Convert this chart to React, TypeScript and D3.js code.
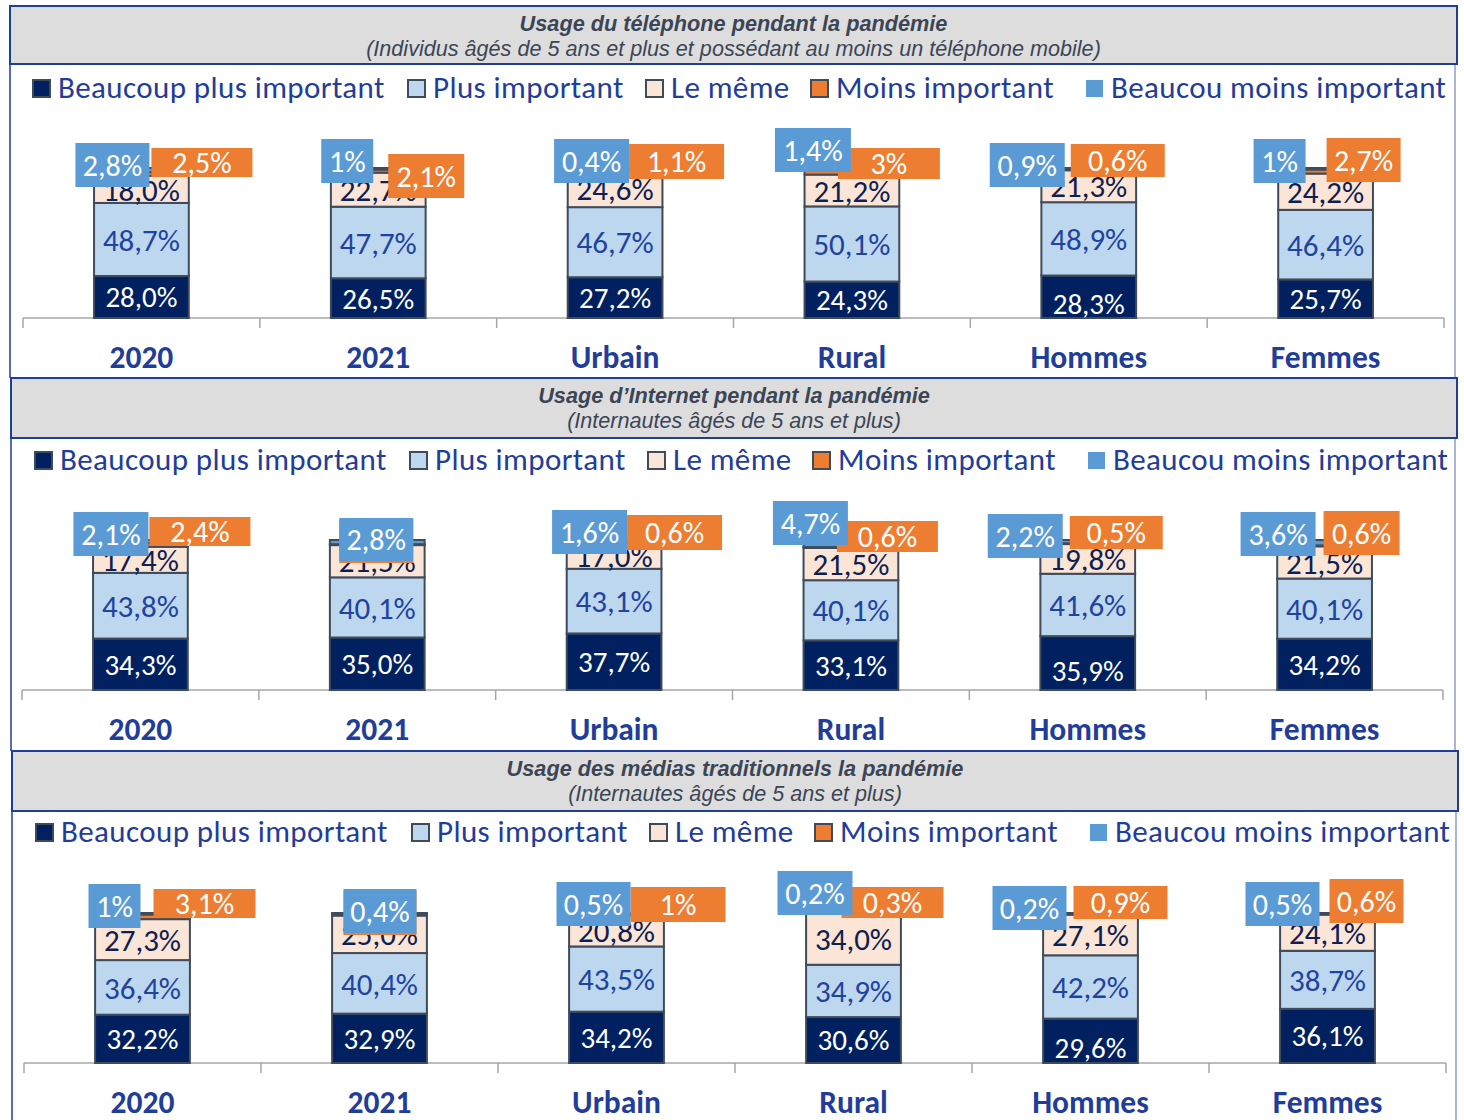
import React from "react";
import * as d3 from "d3";

// ---------- DATA ----------
const categories = ["2020", "2021", "Urbain", "Rural", "Hommes", "Femmes"];
const seriesNames = [
  "Beaucoup plus important",
  "Plus important",
  "Le même",
  "Moins important",
  "Beaucou moins important",
];

const panelTitles = [
  "Usage du téléphone pendant la pandémie",
  "Usage d’Internet pendant la pandémie",
  "Usage des médias traditionnels la pandémie",
];
const panelSubtitles = [
  "(Individus âgés de 5 ans et plus et possédant au moins un téléphone mobile)",
  "(Internautes âgés de 5 ans et plus)",
  "(Internautes âgés de 5 ans et plus)",
];

// Téléphone
const phoneBeaucoupPlus = [28.0, 26.5, 27.2, 24.3, 28.3, 25.7];
const phonePlus = [48.7, 47.7, 46.7, 50.1, 48.9, 46.4];
const phoneMeme = [18.0, 22.7, 24.6, 21.2, 21.3, 24.2];
const phoneMoins = [2.5, 2.1, 1.1, 3, 0.6, 2.7];
const phoneBeaucoupMoins = [2.8, 1, 0.4, 1.4, 0.9, 1];

// Internet
const netBeaucoupPlus = [34.3, 35.0, 37.7, 33.1, 35.9, 34.2];
const netPlus = [43.8, 40.1, 43.1, 40.1, 41.6, 40.1];
const netMeme = [17.4, 21.5, 17.0, 21.5, 19.8, 21.5];
const netMoins = [2.4, 0.6, 0.6, 0.6, 0.5, 0.6];
const netBeaucoupMoins = [2.1, 2.8, 1.6, 4.7, 2.2, 3.6];

// Médias traditionnels
const mediaBeaucoupPlus = [32.2, 32.9, 34.2, 30.6, 29.6, 36.1];
const mediaPlus = [36.4, 40.4, 43.5, 34.9, 42.2, 38.7];
const mediaMeme = [27.3, 25.0, 20.8, 34.0, 27.1, 24.1];
const mediaMoins = [3.1, 1.3, 1, 0.3, 0.9, 0.6];
const mediaBeaucoupMoins = [1, 0.4, 0.5, 0.2, 0.2, 0.5];

const panelSeries = [
  [phoneBeaucoupPlus, phonePlus, phoneMeme, phoneMoins, phoneBeaucoupMoins],
  [netBeaucoupPlus, netPlus, netMeme, netMoins, netBeaucoupMoins],
  [mediaBeaucoupPlus, mediaPlus, mediaMeme, mediaMoins, mediaBeaucoupMoins],
];

// ---------- LAYOUT / STYLE ----------
const COLORS = ["#002060", "#BDD7EE", "#FBE5D6", "#ED7D31", "#5B9BD5"];
const LABEL_COLORS = ["#FFFFFF", "#1F43A0", "#0E2050"];
const BORDER = "#1F3D99";
const TEXT_BLUE = "#1F3D99";
const FONT = "Carlito, Lato, sans-serif";
const TITLE_FONT = "'Liberation Sans', Arial, sans-serif";

const panels = [
  { x0: 10, x1: 1457, top: 6, headBottom: 64, bottom: 378, base: 318, ax0: 23, ax1: 1444, legendY: 98, legendX: [32, 407, 645, 810, 1085] },
  { x0: 11, x1: 1457, top: 378, headBottom: 438, bottom: 751, base: 690, ax0: 22, ax1: 1443, legendY: 470, legendX: [34, 409, 647, 812, 1087] },
  { x0: 12, x1: 1458, top: 751, headBottom: 811, bottom: 1122, base: 1063, ax0: 24, ax1: 1446, legendY: 842, legendX: [35, 411, 649, 814, 1089] },
];

// label box placement, relative to bar centre and bar top:
// [blue dx, dy, w, h, orange dx, dy, w, h]
const labelBoxes = [
  [
    [-66, -25, 74, 44, 10, -20, 101, 29],
    [-57, -29, 52, 44, 10, -14, 76, 44],
    [-61, -29, 75, 44, 14, -24, 95, 35],
    [-77, -40, 76, 44, -14, -20, 102, 31],
    [-99, -25, 75, 44, -18, -24, 94, 33],
    [-72, -29, 52, 44, 1, -30, 74, 44],
  ],
  [
    [-67, -28, 75, 44, 9, -23, 101, 29],
    [-38, -22, 74, 43, -38, -20, 74, 43],
    [-62, -30, 75, 44, 13, -25, 95, 35],
    [-78, -39, 75, 44, -14, -19, 101, 31],
    [-100, -26, 75, 44, -18, -24, 93, 33],
    [-84, -28, 75, 44, -1, -29, 76, 44],
  ],
  [
    [-54, -29, 52, 44, 11, -24, 102, 29],
    [-36, -24, 73, 44, -36, -22, 73, 44],
    [-60, -31, 74, 44, 14, -26, 95, 35],
    [-76, -42, 75, 44, -12, -26, 102, 31],
    [-98, -27, 74, 44, -17, -27, 94, 33],
    [-82, -31, 74, 44, 2, -34, 74, 44],
  ],
];
const darkLabelNudge = [0, 0, 0, 0, 7, 0];

const fmtMain = (v: number) => v.toFixed(1).replace(".", ",") + "%";
const fmtSmall = (v: number) => String(v).replace(".", ",") + "%";

function Panel({ p, idx }: { p: any; idx: number }) {
  const series = panelSeries[idx];
  const rows = categories.map((c, i) => {
    const r: any = { cat: c };
    seriesNames.forEach((s, k) => (r[s] = series[k][i]));
    return r;
  });
  const stacked = d3.stack().keys(seriesNames)(rows);
  const x = d3
    .scaleBand()
    .domain(categories)
    .range([p.ax0, p.ax1])
    .paddingInner(0.6)
    .paddingOuter(0.3);
  const y = d3.scaleLinear().domain([0, 100]).range([p.base, p.base - 150]);
  const step = x.step();
  const ticks = d3.range(categories.length + 1).map((i) => p.ax0 + i * step);
  const cx = (c: string) => (x(c) as number) + x.bandwidth() / 2;

  return (
    <g>
      {/* body borders */}
      <line x1={p.x0} x2={p.x0} y1={p.headBottom} y2={p.bottom} stroke={BORDER} strokeWidth={1.5} />
      <line x1={p.x1 - 2} x2={p.x1 - 2} y1={p.headBottom} y2={p.bottom} stroke="#8C9CC8" strokeWidth={1.5} />
      {/* header */}
      <rect x={p.x0} y={p.top} width={p.x1 - p.x0} height={p.headBottom - p.top} fill="#DDDDDD" stroke={BORDER} strokeWidth={2} />
      <text x={(p.x0 + p.x1) / 2} y={p.top + 25} textAnchor="middle" fontFamily={TITLE_FONT} fontStyle="italic" fontWeight="bold" fontSize={21.7} fill="#3B4556">
        {panelTitles[idx]}
      </text>
      <text x={(p.x0 + p.x1) / 2} y={p.top + 50} textAnchor="middle" fontFamily={TITLE_FONT} fontStyle="italic" fontSize={21.6} fill="#3B4556">
        {panelSubtitles[idx]}
      </text>
      {/* legend */}
      {seriesNames.map((s, k) => (
        <g key={s}>
          <rect
            x={p.legendX[k] + 1}
            y={p.legendY - 18}
            width={17}
            height={17}
            fill={COLORS[k]}
            stroke={k === 4 ? "none" : "#404B5A"}
            strokeWidth={k === 4 ? 0 : 2}
          />
          <text x={p.legendX[k] + 26} y={p.legendY} fontFamily={FONT} fontSize={31} letterSpacing={0.4} fill={TEXT_BLUE}>
            {s}
          </text>
        </g>
      ))}
      {/* axis */}
      <line x1={p.ax0} x2={p.ax1} y1={p.base} y2={p.base} stroke="#A6A6A6" strokeWidth={1.5} />
      {ticks.map((t, i) => (
        <line key={i} x1={t} x2={t} y1={p.base} y2={p.base + 10} stroke="#A6A6A6" strokeWidth={1.5} />
      ))}
      {/* bars */}
      {stacked.map((layer, k) =>
        layer.map((d: any, i: number) => (
          <rect
            key={k + "-" + i}
            x={x(categories[i])}
            y={y(d[1])}
            width={x.bandwidth()}
            height={Math.max(0, y(d[0]) - y(d[1]))}
            fill={COLORS[k]}
            stroke="#3F4B5B"
            strokeWidth={2}
          />
        ))
      )}
      {/* segment labels */}
      {stacked.slice(0, 3).map((layer, k) =>
        layer.map((d: any, i: number) => (
          <text
            key={"l" + k + "-" + i}
            x={cx(categories[i])}
            y={(y(d[0]) + y(d[1])) / 2 + (k === 0 ? darkLabelNudge[i] : 0)}
            dy="0.36em"
            textAnchor="middle"
            fontFamily={FONT}
            fontSize={k === 0 ? 29 : 31}
            fill={LABEL_COLORS[k]}
          >
            {fmtMain(series[k][i])}
          </text>
        ))
      )}
      {/* label boxes: orange first, blue on top */}
      {categories.map((c, i) => {
        const b = labelBoxes[idx][i];
        const topY = y(100);
        const ox = cx(c) + b[4];
        const oy = topY + b[5];
        const bx = cx(c) + b[0];
        const by = topY + b[1];
        return (
          <g key={"box" + i}>
            <rect x={ox} y={oy} width={b[6]} height={b[7]} fill={COLORS[3]} />
            <text x={ox + b[6] / 2} y={oy + b[7] / 2} dy="0.36em" textAnchor="middle" fontFamily={FONT} fontSize={30} fill="#FFFFFF">
              {fmtSmall(series[3][i])}
            </text>
            <rect x={bx} y={by} width={b[2]} height={b[3]} fill={COLORS[4]} />
            <text x={bx + b[2] / 2} y={by + b[3] / 2} dy="0.36em" textAnchor="middle" fontFamily={FONT} fontSize={30} fill="#FFFFFF">
              {fmtSmall(series[4][i])}
            </text>
          </g>
        );
      })}
      {/* category labels */}
      {categories.map((c) => (
        <text key={"c" + c} x={cx(c)} y={p.base + 50} textAnchor="middle" fontFamily={FONT} fontWeight="bold" fontSize={31.5} fill={TEXT_BLUE}>
          {c}
        </text>
      ))}
    </g>
  );
}

export default function App() {
  return (
    <svg
      width={1464}
      height={1120}
      style={{ position: "absolute", left: 0, top: 0, background: "#FFFFFF" }}
    >
      <rect x={0} y={0} width={1464} height={1120} fill="#FFFFFF" />
      {panels.map((p, i) => (
        <Panel key={i} p={p} idx={i} />
      ))}
    </svg>
  );
}
